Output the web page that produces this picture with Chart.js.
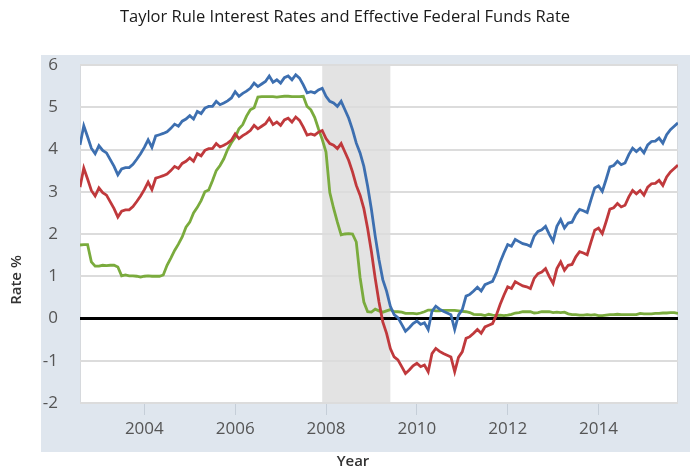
<!DOCTYPE html>
<html>
<head>
<meta charset="utf-8">
<script src="https://cdn.jsdelivr.net/npm/chart.js"></script>
<style>
  html, body { margin: 0; padding: 0; background: #fff; }
  #wrap { width: 690px; height: 474px; position: relative; }
</style>
</head>
<body>
<div id="wrap"><canvas id="taylorChart"></canvas></div>
<script>
// monthly observations, Aug 2002 .. Oct 2015
const firstMonth = 2002 + 7 / 12;

const taylorBlue = [
  4.11, 4.56, 4.30, 4.03, 3.90,
  4.09, 3.98, 3.92, 3.76, 3.60, 3.40, 3.54, 3.57, 3.57, 3.65, 3.77, 3.90,
  4.05, 4.23, 4.05, 4.32, 4.35, 4.38, 4.42, 4.50, 4.60, 4.55, 4.67, 4.72,
  4.80, 4.72, 4.90, 4.85, 4.98, 5.02, 5.02, 5.14, 5.06, 5.10, 5.15, 5.22,
  5.37, 5.26, 5.33, 5.38, 5.45, 5.57, 5.49, 5.55, 5.61, 5.74, 5.59, 5.65,
  5.57, 5.70, 5.74, 5.65, 5.77, 5.69, 5.53, 5.34, 5.37, 5.34, 5.41, 5.45,
  5.26, 5.14, 5.10, 5.02, 5.14, 4.94, 4.74, 4.47, 4.15, 3.92, 3.60, 3.13,
  2.58, 1.95, 1.39, 0.92, 0.65, 0.29, 0.09, 0.02, -0.14, -0.30, -0.22, -0.12,
  -0.06, -0.14, -0.10, -0.26, 0.17, 0.29, 0.22, 0.17, 0.13, 0.09, -0.26, 0.08,
  0.21, 0.53, 0.57, 0.65, 0.74, 0.65, 0.80, 0.84, 0.88, 1.08, 1.33, 1.55,
  1.75, 1.71, 1.87, 1.82, 1.77, 1.75, 1.71, 1.95, 2.06, 2.10, 2.18, 1.99,
  1.83, 2.18, 2.34, 2.14, 2.26, 2.28, 2.46, 2.58, 2.55, 2.51, 2.81, 3.09,
  3.14, 3.01, 3.29, 3.59, 3.62, 3.72, 3.64, 3.68, 3.88, 4.03, 3.95, 4.03,
  3.92, 4.11, 4.19, 4.20, 4.27, 4.15, 4.35, 4.47, 4.55, 4.63
];

const taylorRed = [
  3.11, 3.56, 3.30, 3.03, 2.90,
  3.09, 2.98, 2.92, 2.76, 2.60, 2.40, 2.54, 2.57, 2.57, 2.65, 2.77, 2.90,
  3.05, 3.23, 3.05, 3.32, 3.35, 3.38, 3.42, 3.50, 3.60, 3.55, 3.67, 3.72,
  3.80, 3.72, 3.90, 3.85, 3.98, 4.02, 4.02, 4.14, 4.06, 4.10, 4.15, 4.22,
  4.37, 4.26, 4.33, 4.38, 4.45, 4.57, 4.49, 4.55, 4.61, 4.74, 4.59, 4.65,
  4.57, 4.70, 4.74, 4.65, 4.77, 4.69, 4.53, 4.34, 4.37, 4.34, 4.41, 4.45,
  4.26, 4.14, 4.10, 4.02, 4.14, 3.94, 3.74, 3.47, 3.15, 2.92, 2.60, 2.13,
  1.58, 0.95, 0.39, -0.08, -0.35, -0.71, -0.91, -0.98, -1.14, -1.30, -1.22, -1.12,
  -1.06, -1.14, -1.10, -1.26, -0.83, -0.71, -0.78, -0.83, -0.87, -0.91, -1.26, -0.92,
  -0.79, -0.47, -0.43, -0.35, -0.26, -0.35, -0.20, -0.16, -0.12, 0.08, 0.33, 0.55,
  0.75, 0.71, 0.87, 0.82, 0.77, 0.75, 0.71, 0.95, 1.06, 1.10, 1.18, 0.99,
  0.83, 1.18, 1.34, 1.14, 1.26, 1.28, 1.46, 1.58, 1.55, 1.51, 1.81, 2.09,
  2.14, 2.01, 2.29, 2.59, 2.62, 2.72, 2.64, 2.68, 2.88, 3.03, 2.95, 3.03,
  2.92, 3.11, 3.19, 3.20, 3.27, 3.15, 3.35, 3.47, 3.55, 3.63
];

const fedFunds = [
  1.74, 1.75, 1.75, 1.34, 1.24,
  1.24, 1.26, 1.25, 1.26, 1.26, 1.22, 1.01, 1.03, 1.01, 1.01, 1.00, 0.98,
  1.00, 1.01, 1.00, 1.00, 1.00, 1.03, 1.26, 1.43, 1.61, 1.76, 1.93, 2.16,
  2.28, 2.50, 2.63, 2.79, 3.00, 3.04, 3.26, 3.50, 3.62, 3.78, 4.00, 4.16,
  4.29, 4.49, 4.59, 4.79, 4.94, 4.99, 5.24, 5.25, 5.25, 5.25, 5.25, 5.24,
  5.25, 5.26, 5.26, 5.25, 5.25, 5.25, 5.26, 5.02, 4.94, 4.76, 4.49, 4.24,
  3.94, 2.98, 2.61, 2.28, 1.98, 2.00, 2.01, 2.00, 1.81, 0.97, 0.39, 0.16,
  0.15, 0.22, 0.18, 0.15, 0.18, 0.21, 0.16, 0.16, 0.15, 0.12, 0.12, 0.12,
  0.11, 0.13, 0.16, 0.20, 0.20, 0.18, 0.18, 0.19, 0.19, 0.19, 0.19, 0.18,
  0.17, 0.16, 0.14, 0.10, 0.09, 0.09, 0.07, 0.10, 0.08, 0.07, 0.08, 0.07,
  0.08, 0.10, 0.13, 0.14, 0.16, 0.16, 0.16, 0.13, 0.14, 0.16, 0.16, 0.16,
  0.14, 0.15, 0.14, 0.15, 0.11, 0.09, 0.09, 0.08, 0.08, 0.09, 0.08, 0.09,
  0.07, 0.07, 0.08, 0.09, 0.09, 0.10, 0.09, 0.09, 0.09, 0.09, 0.09, 0.12,
  0.11, 0.11, 0.11, 0.12, 0.12, 0.13, 0.13, 0.14, 0.14, 0.12
];

const xTickYears = [2004, 2006, 2008, 2010, 2012, 2014];
const recession = [2007 + 11 / 12, 2009 + 5 / 12]; // Dec 2007 - Jun 2009

const chartTitle = 'Taylor Rule Interest Rates and Effective Federal Funds Rate';
const xTitle = 'Year';
const yTitle = 'Rate %';

function toPoints(values) {
  return values.map((v, i) => ({ x: firstMonth + i / 12, y: v }));
}

// panel background, white plot area, recession band and the titles
const framePlugin = {
  id: 'frame',
  beforeDraw(chart) {
    const { ctx, chartArea: a } = chart;
    const xs = chart.scales.x;
    ctx.save();
    ctx.fillStyle = '#ffffff';
    ctx.fillRect(0, 0, chart.width, chart.height);
    ctx.fillStyle = '#dfe6ee';
    ctx.fillRect(a.left - 39, a.top - 10, chart.width - (a.left - 39), (a.bottom + 49) - (a.top - 10));
    ctx.fillStyle = '#ffffff';
    ctx.fillRect(a.left, a.top, a.right - a.left, a.bottom - a.top);
    const r0 = xs.getPixelForValue(recession[0]);
    const r1 = xs.getPixelForValue(recession[1]);
    ctx.fillStyle = '#e3e3e3';
    ctx.fillRect(r0, a.top, r1 - r0, a.bottom - a.top);
    ctx.strokeStyle = '#d6d9dd';
    ctx.lineWidth = 1;
    ctx.strokeRect(a.left + 0.5, a.top + 0.5, a.right - a.left - 1, a.bottom - a.top - 1);
    ctx.restore();
  },
  afterDraw(chart) {
    const { ctx } = chart;
    ctx.save();
    ctx.fillStyle = '#1a1a1a';
    ctx.textAlign = 'center';
    ctx.textBaseline = 'middle';
    ctx.font = '16.5px "Open Sans", "Liberation Sans", sans-serif';
    ctx.fillText(chartTitle, 345, 17);
    ctx.fillStyle = '#333';
    ctx.font = '600 15px "Open Sans", "Liberation Sans", sans-serif';
    ctx.fillText(xTitle, 353, 462);
    ctx.translate(17, 280);
    ctx.rotate(-Math.PI / 2);
    ctx.fillText(yTitle, 0, 0);
    ctx.restore();
  }
};

const tickFont = { family: '"Open Sans", "Liberation Sans", sans-serif', size: 17 };

new Chart(document.getElementById('taylorChart'), {
  type: 'line',
  data: {
    datasets: [
      { label: 'Taylor rule', data: toPoints(taylorBlue), borderColor: '#3d6fb0' },
      { label: 'Taylor rule (alt.)', data: toPoints(taylorRed), borderColor: '#c0393c' },
      { label: 'Effective federal funds rate', data: toPoints(fedFunds), borderColor: '#7aab3d' }
    ]
  },
  options: {
    responsive: true,
    maintainAspectRatio: false,
    animation: false,
    layout: { padding: { left: 0, top: 65, right: 12, bottom: 0 } },
    elements: {
      point: { radius: 0 },
      line: { borderWidth: 2.8, tension: 0 }
    },
    plugins: {
      legend: { display: false },
      tooltip: { enabled: false }
    },
    scales: {
      x: {
        type: 'linear',
        min: firstMonth,
        max: 2015 + 9 / 12,
        afterBuildTicks: s => { s.ticks = xTickYears.map(v => ({ value: v })); },
        afterFit: s => { s.height = 71; },
        grid: { drawOnChartArea: false, drawTicks: true, tickLength: 12, color: '#c5ced8', lineWidth: 1 },
        border: { display: false },
        ticks: { color: '#555', font: tickFont, padding: 4, maxRotation: 0, callback: v => String(v) }
      },
      y: {
        min: -2,
        max: 6,
        afterFit: s => { s.width = 80; },
        ticks: { stepSize: 1, color: '#555', font: tickFont, padding: 22 },
        grid: {
          drawTicks: false,
          color: c => c.tick && c.tick.value === 0 ? '#000' : '#dcdcdc',
          lineWidth: c => c.tick && c.tick.value === 0 ? 3 : 2
        },
        border: { display: false }
      }
    }
  },
  plugins: [framePlugin]
});
</script>
</body>
</html>
